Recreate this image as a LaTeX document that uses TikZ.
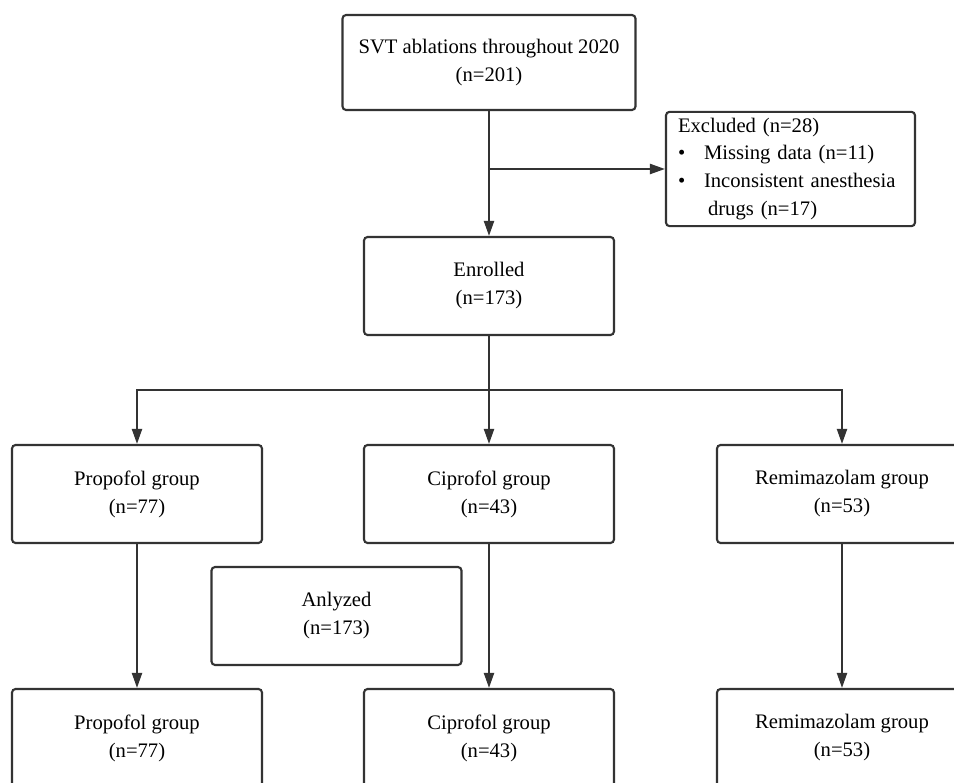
\documentclass[tikz,border=0pt]{standalone}
\usepackage{fontspec}
\setmainfont{Liberation Serif}
\usetikzlibrary{arrows.meta}

\begin{document}
\begin{tikzpicture}[x=0.02cm,y=-0.02cm,>={Triangle[length=0.3cm,width=0.2cm]},font=\fontsize{11.75}{15.9}\selectfont]
		\tikzstyle{box}=[draw=black!80,line width=1.2pt,rounded corners=2pt,minimum width=5cm,minimum height=1.96cm,align=center]
		\tikzstyle{link}=[draw=black!80,line width=1.2pt]

		\useasboundingbox (0,0) rectangle (954,783);

		\node[box,minimum width=5.86cm,minimum height=1.9cm](svt) at (489,62.5){SVT ablations throughout 2020\\(n=201)};
		\node[box,minimum width=4.98cm,minimum height=2.26cm,align=left,text width=4.5cm,inner xsep=0.24cm](excl) at (790.5,169){Excluded (n=28)\\
			\makebox[0.52cm][l]{\textbullet}Missing data (n=11)\\
			\makebox[0.52cm][l]{\textbullet}Inconsistent anesthesia\\
			\hspace*{0.6cm}drugs (n=17)};
		\node[box](enr) at (489,286){Enrolled\\(n=173)};

		\node[box](prop) at (137,494){Propofol group\\(n=77)};
		\node[box](cipro) at (489,494){Ciprofol group\\(n=43)};
		\node[box](remi) at (842,494){Remimazolam group\\(n=53)};

		\node[box](anl) at (336.5,616){Anlyzed\\(n=173)};

		\node[box](prop2) at (137,738){Propofol group\\(n=77)};
		\node[box](cipro2) at (489,738){Ciprofol group\\(n=43)};
		\node[box](remi2) at (842,738){Remimazolam group\\(n=53)};

		\coordinate (split) at (svt.south |- excl.west);
		\coordinate (fork) at (489,390);

		\draw[link,->] (svt) -- (enr);
		\draw[link,->] (split) -- (excl);

		\draw[link] (enr) -- (fork);
		\draw[link,->] (fork) -| (prop);
		\draw[link,->] (fork) -- (cipro);
		\draw[link,->] (fork) -| (remi);

		\draw[link,->] (prop) -- (prop2);
		\draw[link,->] (cipro) -- (cipro2);
		\draw[link,->] (remi) -- (remi2);
	\end{tikzpicture}
\end{document}
